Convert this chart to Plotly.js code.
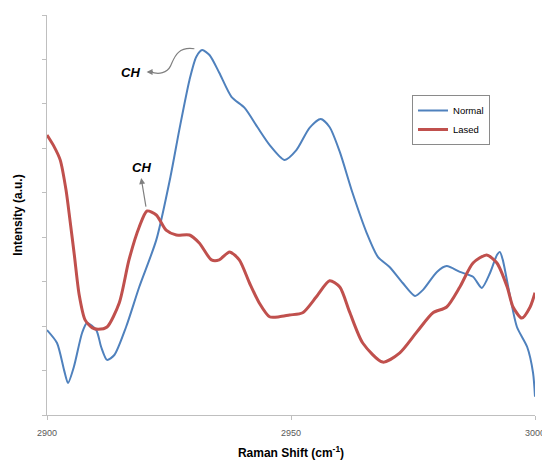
<!DOCTYPE html>
<html>
<head>
<meta charset="utf-8">
<script src="https://cdn.plot.ly/plotly-3.0.1.min.js"></script>
<style>
html,body{margin:0;padding:0;background:#fff;}
#chart{width:542px;height:460px;}
</style>
</head>
<body>
<div id="chart"></div>
<script>
// Raman shift (cm-1) and intensity (a.u.)
const normalX = [2900.0,2902.05,2903.5,2904.3,2905.5,2907.2,2908.2,2910.1,2911.1,2912.3,2913.8,2916.2,2918.9,2922.4,2925.3,2927.1,2929.2,2930.6,2931.8,2933.3,2935.3,2937.8,2940.5,2943.1,2945.6,2948.7,2951.1,2953.8,2956.1,2957.9,2960.0,2962.6,2965.5,2967.8,2970.2,2972.9,2975.4,2977.0,2979.9,2981.9,2984.6,2987.3,2989.1,2990.8,2992.2,2992.8,2993.4,2994.9,2996.3,2998.4,2999.6,3000.0];
const normalY = [1.91,1.62,1.01,0.72,1.08,1.85,2.07,1.91,1.53,1.24,1.35,1.98,2.88,3.94,5.36,6.41,7.54,8.06,8.21,8.10,7.70,7.16,6.91,6.48,6.08,5.74,5.96,6.46,6.66,6.48,5.92,5.00,4.10,3.56,3.33,2.97,2.68,2.81,3.22,3.35,3.22,3.11,2.86,3.20,3.60,3.67,3.49,2.66,1.98,1.53,0.95,0.41];
const lasedX = [2900.0,2901.4,2902.7,2903.9,2904.7,2905.6,2906.6,2907.8,2909.3,2910.5,2912.3,2914.8,2916.8,2918.9,2920.5,2922.4,2924.4,2926.5,2929.2,2931.2,2933.7,2935.3,2937.4,2939.4,2941.5,2943.5,2945.6,2947.6,2949.7,2952.4,2955.2,2957.9,2960.0,2962.0,2964.7,2968.8,2972.3,2975.8,2979.1,2981.9,2984.6,2987.3,2990.1,2992.2,2994.3,2995.5,2997.3,2999.0,3000.0];
const lasedY = [6.30,6.05,5.74,5.06,4.39,3.60,2.70,2.14,1.96,1.93,1.98,2.52,3.49,4.23,4.59,4.50,4.16,4.05,4.05,3.87,3.49,3.49,3.67,3.49,2.97,2.52,2.21,2.21,2.25,2.30,2.66,3.02,2.88,2.32,1.62,1.19,1.40,1.87,2.30,2.43,2.88,3.42,3.60,3.42,2.88,2.43,2.18,2.43,2.75];
const seriesNames = ['Normal','Lased'];
const xTicks = [2900,2950,3000];

const traces = [
  {x: normalX, y: normalY, name: seriesNames[0], type: 'scatter', mode: 'lines',
   line: {color: '#4F81BD', width: 2, shape: 'spline', smoothing: 0.7}},
  {x: lasedX, y: lasedY, name: seriesNames[1], type: 'scatter', mode: 'lines',
   line: {color: '#C0504D', width: 3, shape: 'spline', smoothing: 0.7}}
];

const layout = {
  width: 542, height: 460,
  margin: {l: 47, r: 7, t: 15, b: 45},
  paper_bgcolor: '#fff', plot_bgcolor: '#fff',
  font: {family: 'Liberation Sans, Arial, sans-serif', color: '#000'},
  showlegend: true,
  legend: {x: 0.748, y: 0.8, xanchor: 'left', yanchor: 'top',
    bgcolor: '#fff', bordercolor: '#8a8a8a', borderwidth: 1,
    font: {size: 9.5, color: '#000'}, itemwidth: 30, tracegroupgap: 0},
  xaxis: {range: [2900, 3000], tickvals: xTicks, ticktext: xTicks.map(String),
    ticklabeloverflow: 'allow', ticklabelstandoff: 5,
    showgrid: false, zeroline: false, showline: true, linecolor: '#bfbfbf', linewidth: 1,
    ticks: 'outside', ticklen: 4, tickcolor: '#bfbfbf',
    tickfont: {size: 9, color: '#595959'},
    title: {text: '<b>Raman Shift (cm<sup>-1</sup>)</b>', font: {size: 12, color: '#000'}, standoff: 13}},
  yaxis: {range: [0, 9], dtick: 1, showticklabels: false,
    showgrid: false, zeroline: false, showline: true, linecolor: '#bfbfbf', linewidth: 1,
    ticks: 'outside', ticklen: 4, tickcolor: '#bfbfbf',
    title: {text: '<b>Intensity (a.u.)</b>', font: {size: 12, color: '#000'}, standoff: 16}},
  shapes: [
    {type: 'path', xref: 'x', yref: 'y',
     path: 'M 2930.2 8.24 C 2926.5 8.3, 2926 8.0, 2925.3 7.85 S 2923 7.65, 2921.2 7.72',
     line: {color: '#808080', width: 1.2}}
  ],
  annotations: [
    {x: 2920.4, y: 7.72, xref: 'x', yref: 'y', text: '', showarrow: true,
     ax: 8, ay: 0, arrowhead: 2, arrowsize: 1, arrowwidth: 1.2, arrowcolor: '#808080'},
    {x: 2917.2, y: 7.70, xref: 'x', yref: 'y', text: '<b><i>CH</i></b>', showarrow: false,
     font: {size: 13, color: '#000'}},
    {x: 2919.3, y: 5.33, xref: 'x', yref: 'y', text: '', showarrow: true,
     ax: 5, ay: 30, arrowhead: 2, arrowsize: 1, arrowwidth: 1.2, arrowcolor: '#808080'},
    {x: 2919.3, y: 5.58, xref: 'x', yref: 'y', text: '<b><i>CH</i></b>', showarrow: false,
     font: {size: 13, color: '#000'}}
  ]
};

Plotly.newPlot('chart', traces, layout, {displayModeBar: false, staticPlot: true});
</script>
</body>
</html>
